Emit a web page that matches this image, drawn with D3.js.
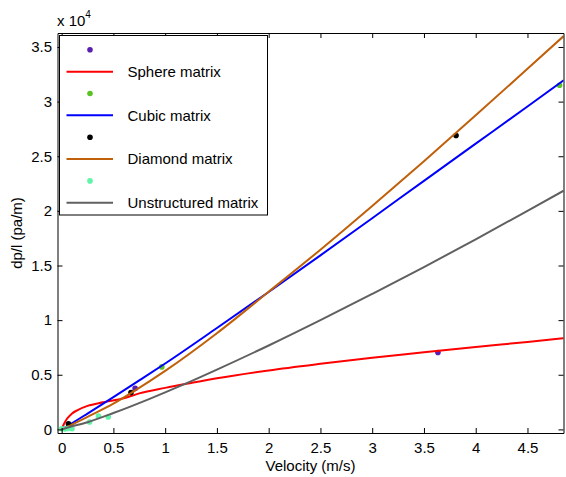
<!DOCTYPE html>
<html>
<head>
<meta charset="utf-8">
<script src="https://cdn.jsdelivr.net/npm/d3@7"></script>
<style>
  html, body { margin: 0; padding: 0; background: #fff; }
  svg { display: block; font-family: "Liberation Sans", Arial, sans-serif; }
</style>
</head>
<body>
<svg id="chart" width="566" height="477"></svg>
<script>
// Velocity (m/s) and pressure gradient (Pa/m) for each matrix model
const sphereV  = [0, 0.02, 0.05, 0.1, 0.15, 0.25, 0.4, 0.6, 0.75, 1.0, 1.25, 1.5, 2.0, 2.5, 3.0, 3.5, 4.0, 4.5, 4.85];
const sphereDp = [0, 450, 950, 1450, 1750, 2150, 2480, 2850, 3300, 3800, 4250, 4680, 5400, 6000, 6550, 7050, 7550, 8000, 8350];

const cubicV  = [0, 0.05, 0.25, 0.5, 0.75, 1.0, 1.5, 2.0, 2.5, 3.0, 3.5, 4.0, 4.5, 4.85];
const cubicDp = [0, 280, 1450, 2950, 4480, 6030, 9280, 12580, 15930, 19330, 22750, 26150, 29550, 31950];

const diamondV  = [0, 0.05, 0.25, 0.5, 0.7, 1.0, 1.5, 2.0, 2.5, 3.0, 3.5, 4.0, 4.5, 4.85];
const diamondDp = [0, 220, 1150, 2350, 3500, 5350, 8800, 12600, 16450, 20450, 24550, 28750, 33000, 36000];

const unstrV  = [0, 0.05, 0.25, 0.5, 0.85, 1.0, 1.22, 1.5, 2.0, 2.5, 3.0, 3.5, 4.0, 4.5, 4.85];
const unstrDp = [0, 150, 660, 1500, 2800, 3390, 4280, 5470, 7680, 10000, 12400, 14850, 17400, 20000, 21850];

// Measured points
const sphereExpV  = [0.71, 3.635];
const sphereExpDp = [3750, 7040];
const cubicExpV  = [0.968, 4.81];
const cubicExpDp = [5720, 31500];
const diamondExpV  = [0.066, 0.67, 3.81];
const diamondExpDp = [520, 3370, 26900];
const unstrExpV  = [0.0, 0.03, 0.06, 0.1, 0.27, 0.355, 0.45];
const unstrExpDp = [60, 30, 80, 60, 670, 1220, 1130];

// Axis ticks
const xTicks = [0, 0.5, 1, 1.5, 2, 2.5, 3, 3.5, 4, 4.5];
const yTicks = [0, 5000, 10000, 15000, 20000, 25000, 30000, 35000];

const legendNames = ["Sphere matrix", "Cubic matrix", "Diamond matrix", "Unstructured matrix"];

const colors = {
  sphere: "#ff0000", cubic: "#0000ff", diamond: "#c0600a", unstr: "#606060",
  sphereDot: "#5a1fb0", cubicDot: "#5cc224", diamondDot: "#000000", unstrDot: "#60f5a8"
};

const svg = d3.select("#chart");
const FS = 15;

const x = d3.scaleLinear().domain([-0.04, 4.848]).range([57.5, 563.5]);
const y = d3.scaleLinear().domain([-330, 36280]).range([433, 33]);

const zip = (a, b) => a.map((v, i) => [v, b[i]]);

// clip region for plotted data
svg.append("defs").append("clipPath").attr("id", "plotclip")
  .append("rect")
  .attr("x", x.range()[0]).attr("y", y.range()[1])
  .attr("width", x.range()[1] - x.range()[0])
  .attr("height", y.range()[0] - y.range()[1]);

const plot = svg.append("g").attr("clip-path", "url(#plotclip)");
const line = d3.line().x(d => x(d[0])).y(d => y(d[1])).curve(d3.curveMonotoneX);

function dots(vs, dps, color) {
  plot.append("g").selectAll("circle").data(zip(vs, dps)).join("circle")
    .attr("cx", d => x(d[0])).attr("cy", d => y(d[1])).attr("r", 2.8)
    .attr("fill", color);
}
function curve(vs, dps, color) {
  plot.append("path").datum(zip(vs, dps))
    .attr("fill", "none").attr("stroke", color).attr("stroke-width", 2)
    .attr("d", line);
}

// draw in series order
dots(sphereExpV, sphereExpDp, colors.sphereDot);
curve(sphereV, sphereDp, colors.sphere);
dots(cubicExpV, cubicExpDp, colors.cubicDot);
curve(cubicV, cubicDp, colors.cubic);
dots(diamondExpV, diamondExpDp, colors.diamondDot);
curve(diamondV, diamondDp, colors.diamond);
dots(unstrExpV, unstrExpDp, colors.unstrDot);
curve(unstrV, unstrDp, colors.unstr);

// axes with inward ticks on all four sides
const fmtY = d => d3.format("")(d / 10000);
const gB = svg.append("g").attr("transform", `translate(0,${y.range()[0]})`)
  .call(d3.axisBottom(x).tickValues(xTicks).tickSizeInner(-5).tickSizeOuter(0).tickPadding(9.5).tickFormat(d3.format("")));
const gT = svg.append("g").attr("transform", `translate(0,${y.range()[1]})`)
  .call(d3.axisTop(x).tickValues(xTicks).tickSizeInner(-5).tickSizeOuter(0).tickFormat(""));
const gL = svg.append("g").attr("transform", `translate(${x.range()[0]},0)`)
  .call(d3.axisLeft(y).tickValues(yTicks).tickSizeInner(-5).tickSizeOuter(0).tickPadding(5.5).tickFormat(fmtY));
const gR = svg.append("g").attr("transform", `translate(${x.range()[1]},0)`)
  .call(d3.axisRight(y).tickValues(yTicks).tickSizeInner(-5).tickSizeOuter(0).tickFormat(""));

[gB, gT, gL, gR].forEach(g => {
  g.selectAll("path.domain").attr("stroke", "#000").attr("stroke-width", 1);
  g.selectAll(".tick line").attr("stroke", "#000");
  g.selectAll("text").attr("font-size", FS).attr("font-family", "Liberation Sans, Arial, sans-serif").attr("fill", "#000");
});

// axis titles
svg.append("text").attr("x", (x.range()[0] + x.range()[1]) / 2).attr("y", 471)
  .attr("text-anchor", "middle").attr("font-size", FS).text("Velocity (m/s)");
svg.append("text").attr("transform", `translate(21.5,${(y.range()[0] + y.range()[1]) / 2}) rotate(-90)`)
  .attr("text-anchor", "middle").attr("font-size", FS).text("dp/l (pa/m)");

// exponent label
const ex = svg.append("text").attr("x", 57).attr("y", 26).attr("font-size", FS);
ex.append("tspan").text("x 10");
ex.append("tspan").attr("font-size", 10).attr("dy", -8).text("4");

// legend
const lg = svg.append("g");
lg.append("rect").attr("x", 59.5).attr("y", 35.5).attr("width", 208).attr("height", 179.5)
  .attr("fill", "#fff").attr("stroke", "#000").attr("stroke-width", 1);
const legendRows = [
  { type: "dot", color: colors.sphereDot },
  { type: "line", color: colors.sphere, name: legendNames[0] },
  { type: "dot", color: colors.cubicDot },
  { type: "line", color: colors.cubic, name: legendNames[1] },
  { type: "dot", color: colors.diamondDot },
  { type: "line", color: colors.diamond, name: legendNames[2] },
  { type: "dot", color: colors.unstrDot },
  { type: "line", color: colors.unstr, name: legendNames[3] }
];
legendRows.forEach((r, i) => {
  const cy = 49.8 + i * 21.85;
  if (r.type === "dot") {
    lg.append("circle").attr("cx", 90).attr("cy", cy).attr("r", 2.8).attr("fill", r.color);
  } else {
    lg.append("line").attr("x1", 66.5).attr("x2", 113).attr("y1", cy).attr("y2", cy)
      .attr("stroke", r.color).attr("stroke-width", 2);
    lg.append("text").attr("x", 127.5).attr("y", cy + 5.3).attr("font-size", FS).text(r.name);
  }
});
</script>
</body>
</html>
